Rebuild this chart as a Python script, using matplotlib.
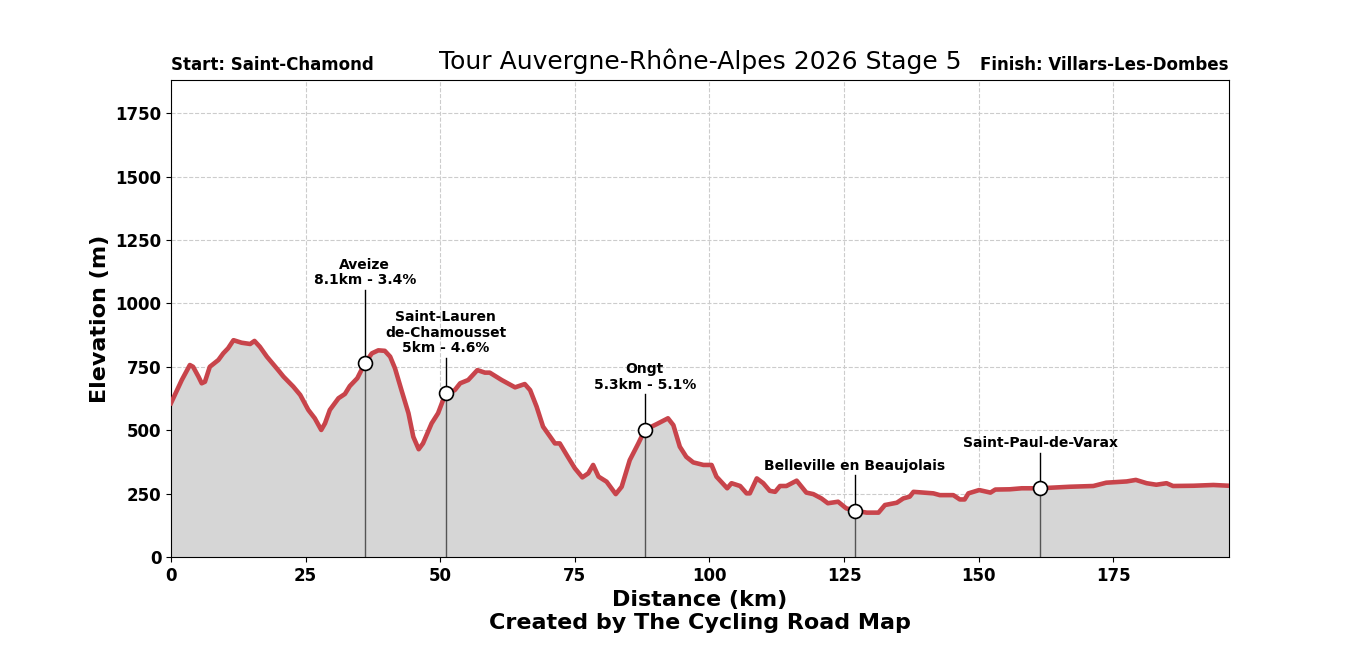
import matplotlib
matplotlib.use("Agg")
import matplotlib.pyplot as plt
import numpy as np

distance_km = [0, 2, 3.5, 4.1, 5.1, 5.7, 6.3, 7.2, 8.8, 9.7, 10.6, 11.6, 13.1, 14.7, 15.5,
               16.5, 17.8, 19.9, 20.9, 22.7, 24, 25.5, 26.7, 27.9, 28.6, 29.5, 31.1, 32.3,
               33.2, 34.6, 36, 37.3, 38.5, 39.7, 40.7, 41.6, 42.8, 44.1, 45, 46, 46.8, 48.4,
               49.6, 51, 52.7, 53.7, 55.2, 56.9, 58.3, 59.2, 61.4, 63.9, 65.7, 66.7, 67.9,
               69.1, 71.3, 72.2, 73.5, 75, 76.4, 77.5, 78.4, 79.4, 80.9, 82.6, 83.7, 85.2,
               86.8, 88, 90.2, 92.3, 93.3, 94.5, 95.7, 97, 98.9, 100.4, 101.3, 103.3, 104.1,
               105.7, 106.9, 107.5, 108.8, 110, 111.2, 112.2, 113.1, 114.3, 116.2, 118,
               119.3, 120.8, 122, 123.9, 125.4, 127, 129.2, 131.4, 132.6, 134.8, 136, 137.2,
               137.9, 141.6, 142.8, 145.3, 146.5, 147.4, 148.1, 150.1, 152.2, 153.1, 155.8,
               158, 161.4, 166.9, 171.3, 173.7, 177.5, 179.2, 181.2, 183, 184.9, 186.1, 189.9,
               193.6, 196.5]
elevation_m = [607, 698, 757, 750, 711, 685, 691, 750, 777, 803, 823, 855, 845, 840, 852,
               829, 790, 737, 711, 672, 639, 580, 547, 501, 527, 580, 626, 643,
               674, 705, 764, 803, 815, 813, 790, 744, 658, 567, 474, 425, 448, 527,
               567, 645, 658, 685, 698, 737, 727, 727, 698, 669, 682, 658, 593,
               514, 448, 448, 402, 350, 314, 330, 363, 317, 297, 248, 277, 382,
               448, 501, 524, 547, 520, 435, 395, 373, 363, 363, 317, 271, 291,
               280, 251, 251, 310, 291, 261, 257, 280, 280, 301, 254,
               248, 231, 212, 218, 192, 183, 175, 175, 205, 214, 231, 238,
               257, 251, 244, 244, 227, 227, 251, 264, 254, 266, 267,
               271, 271, 277, 280, 293, 298, 304, 291, 285, 291, 280, 281,
               284, 281]

climb_names = ["Aveize\n8.1km - 3.4%", "Saint-Lauren\nde-Chamousset\n5km - 4.6%",
               "Ongt\n5.3km - 5.1%", "Belleville en Beaujolais", "Saint-Paul-de-Varax"]
climb_km = [36, 51, 88, 127, 161.4]
climb_offset_m = [300, 150, 150, 150, 150]

title = "Tour Auvergne-Rhône-Alpes 2026 Stage 5"
start_label = "Start: Saint-Chamond"
finish_label = "Finish: Villars-Les-Dombes"

line_color = "#c8444b"

fig = plt.figure(figsize=(13.66, 6.55), dpi=100)
ax = fig.add_subplot(111)
fig.subplots_adjust(left=0.1252, right=0.8997, top=0.8779, bottom=0.1496)

x = np.array(distance_km)
y = np.array(elevation_m)
ax.fill_between(x, y, 0, color="#d6d6d6", zorder=1)
ax.plot(x, y, color=line_color, lw=3.3, zorder=3)

ax.set_xlim(0, max(distance_km))
ax.set_ylim(0, max(elevation_m) * 2.2)
ax.set_xticks([0, 25, 50, 75, 100, 125, 150, 175])
ax.set_yticks([0, 250, 500, 750, 1000, 1250, 1500, 1750])
ax.grid(True, linestyle="--", color="#cccccc", lw=0.8, zorder=0)
ax.set_axisbelow(True)

for name, km, off in zip(climb_names, climb_km, climb_offset_m):
    e = np.interp(km, x, y)
    ax.plot([km, km], [0, e], color="#555555", lw=1, zorder=2)
    ax.plot([km, km], [e, e + off - 10], color="black", lw=1, zorder=4)
    ax.plot([km], [e], marker="o", ms=10, mfc="white", mec="black", mew=1.2, zorder=5)
    ax.text(km, e + off, name, ha="center", va="bottom", fontsize=10,
            fontweight="bold", zorder=6, linespacing=1.15)

for lab in ax.get_xticklabels() + ax.get_yticklabels():
    lab.set_fontweight("bold")
    lab.set_fontsize(12)

ax.set_xlabel("Distance (km)\nCreated by The Cycling Road Map", fontsize=16,
              fontweight="bold", labelpad=4, linespacing=1.15)
ax.set_ylabel("Elevation (m)", fontsize=16, fontweight="bold")
ax.set_title(title, fontsize=18, pad=8)
ax.text(0, 1.012, start_label, transform=ax.transAxes, ha="left", va="bottom",
        fontsize=12, fontweight="bold")
ax.text(1, 1.012, finish_label, transform=ax.transAxes, ha="right", va="bottom",
        fontsize=12, fontweight="bold")

fig.savefig("out.png", dpi=100)
